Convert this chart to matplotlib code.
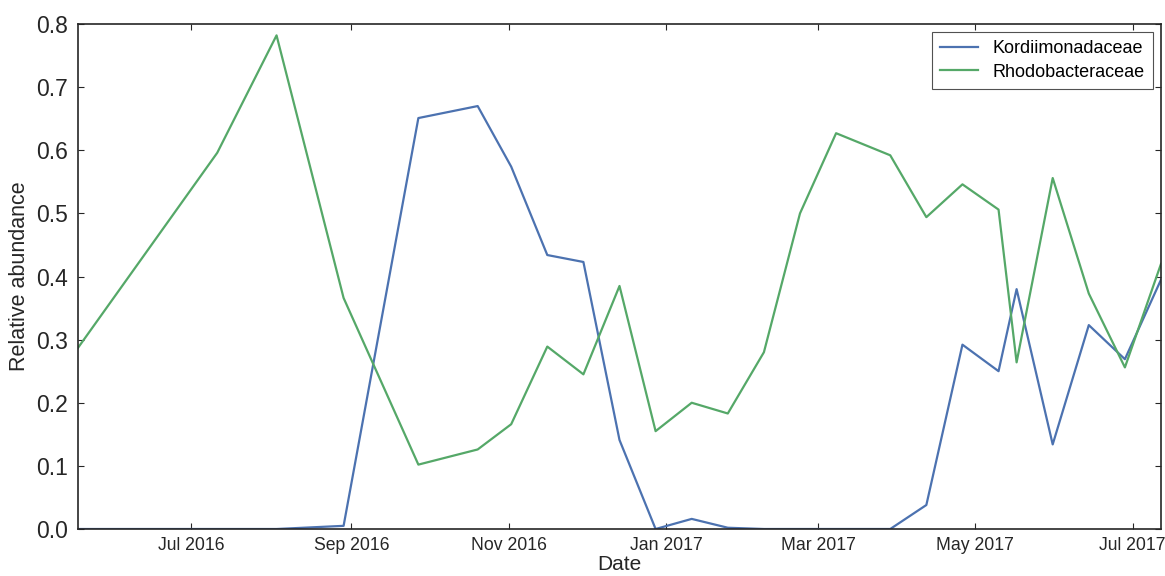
import matplotlib
matplotlib.use("Agg")
import matplotlib.pyplot as plt
import matplotlib.dates as mdates
import pandas as pd

dates = ["2016-05-18", "2016-07-11", "2016-08-03", "2016-08-29", "2016-09-27",
         "2016-10-20", "2016-11-02", "2016-11-16", "2016-11-30", "2016-12-14",
         "2016-12-28", "2017-01-11", "2017-01-25", "2017-02-08", "2017-02-22",
         "2017-03-08", "2017-03-29", "2017-04-12", "2017-04-26", "2017-05-10",
         "2017-05-17", "2017-05-31", "2017-06-14", "2017-06-28", "2017-07-12"]

kordiimonadaceae = [0.0, 0.0, 0.0, 0.005, 0.651,
                    0.670, 0.574, 0.434, 0.423, 0.141,
                    0.0, 0.016, 0.002, 0.0, 0.0,
                    0.0, 0.0, 0.038, 0.292, 0.250,
                    0.380, 0.134, 0.323, 0.269, 0.395]

rhodobacteraceae = [0.287, 0.596, 0.782, 0.366, 0.102,
                    0.126, 0.166, 0.289, 0.245, 0.385,
                    0.155, 0.200, 0.183, 0.280, 0.500,
                    0.627, 0.592, 0.494, 0.546, 0.506,
                    0.264, 0.556, 0.373, 0.256, 0.420]

x = pd.to_datetime(dates)

plt.rcParams['font.family'] = ['Liberation Sans', 'DejaVu Sans']

fig = plt.figure(figsize=(11.65, 5.76), dpi=100)
ax = fig.add_axes([78/1165, 47/576, (1161-78)/1165, (529-24)/576])

ax.plot(x, kordiimonadaceae, color='#4C72B0', lw=1.6, label='Kordiimonadaceae')
ax.plot(x, rhodobacteraceae, color='#55A868', lw=1.6, label='Rhodobacteraceae')

ax.set_xlim(x[0], x[-1])
ax.set_ylim(0, 0.8)
ax.set_yticks([0.0, 0.1, 0.2, 0.3, 0.4, 0.5, 0.6, 0.7, 0.8])
ax.xaxis.set_major_locator(mdates.MonthLocator(bymonth=[1, 3, 5, 7, 9, 11]))
ax.xaxis.set_major_formatter(mdates.DateFormatter('%b %Y'))

ax.tick_params(axis='both', direction='in', length=4, width=0.8, color='#262626',
               top=True, right=True, labelcolor='#262626')
ax.tick_params(axis='y', labelsize=16.5, pad=7)
ax.tick_params(axis='x', labelsize=12.7, pad=6)
for s in ax.spines.values():
    s.set_color('#262626')
    s.set_linewidth(1.2)

ax.set_xlabel('Date', fontsize=15, color='#262626', labelpad=0.5)
ax.set_ylabel('Relative abundance', fontsize=15.5, color='#262626', labelpad=4.5)

leg = ax.legend(loc='upper right', fontsize=13, frameon=True, fancybox=False,
                edgecolor='#262626', borderpad=0.45, handlelength=2.1,
                handletextpad=0.8, labelspacing=0.35, borderaxespad=0.45)
leg.get_frame().set_linewidth(0.8)

fig.savefig('out.png', dpi=100)
